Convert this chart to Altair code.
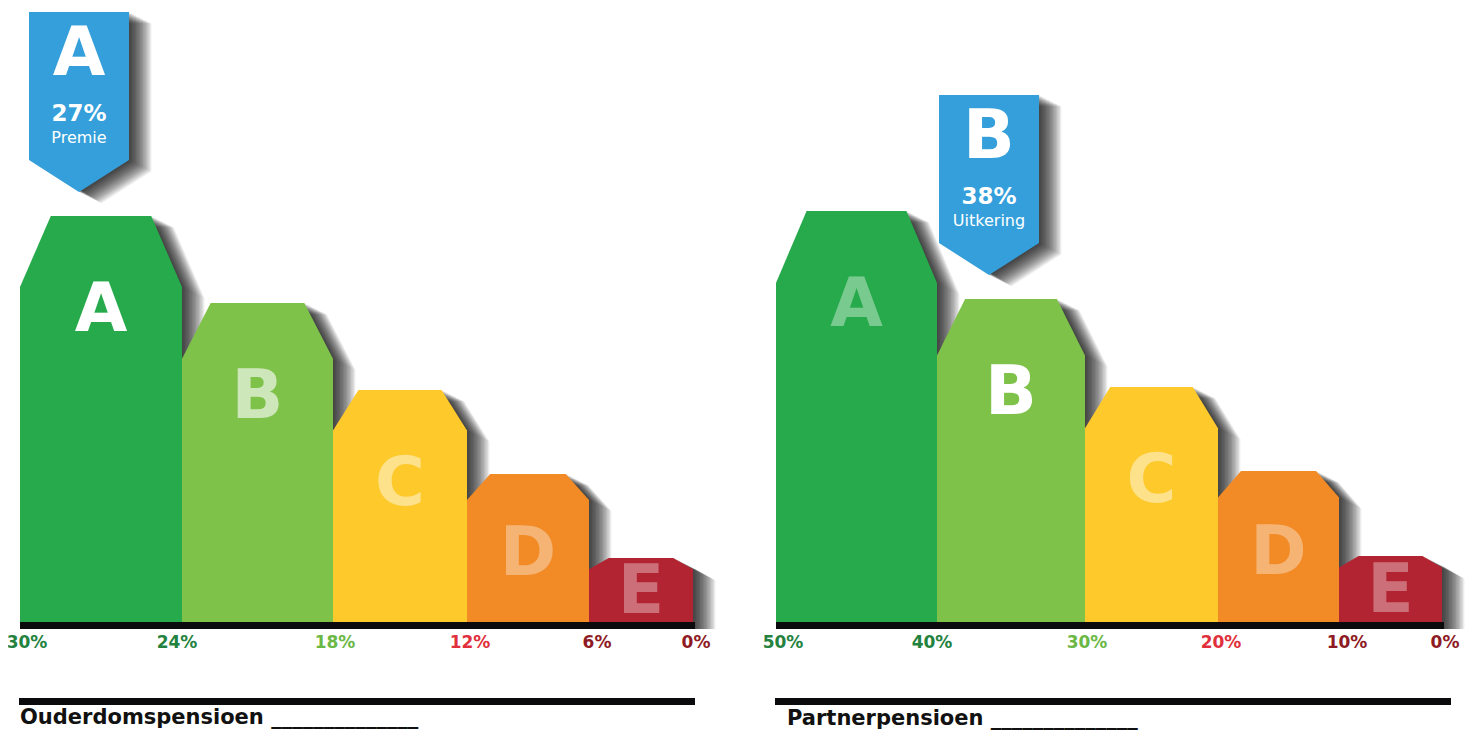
import altair as alt
import pandas as pd

# ---------------- data ----------------
grades = ["A", "B", "C", "D", "E"]
grade_colors = ["#27AA4B", "#7EC24A", "#FEC92B", "#F28A25", "#B32432"]

left_widths = [162, 151, 134, 122, 104]
left_heights = [406, 319, 232, 148, 64]
left_ticks = ["30%", "24%", "18%", "12%", "6%", "0%"]

right_widths = [161, 148, 133, 121, 103]
right_heights = [411, 323, 235, 151, 66]
right_ticks = ["50%", "40%", "30%", "20%", "10%", "0%"]

tick_colors = ["#23823E", "#23823E", "#6BB845", "#E1303B", "#8E1B24", "#8E1B24"]

panel_titles = ["Ouderdomspensioen", "Partnerpensioen"]
highlight = ["A", "B"]
highlight_values = ["27%", "38%"]
highlight_captions = ["Premie", "Uitkering"]

# ---------------- layout / style constants ----------------
W, H = 1463, 722
X_DOMAIN = [-12, 1451]
Y_DOMAIN = [-108, 614]
PANEL_OFFSETS = [0, 756]
CHAMFER_X = 0.19
CHAMFER_Y = 0.175
SHADOW_STEPS = 16          # directional soft shadow: shifted translucent copies
SHADOW_STEP_X, SHADOW_STEP_Y = 1.4, 0.7
SHADOW_ALPHA = 0.075
LETTER_ALPHA = [0.38, 0.62, 0.45, 0.36, 0.34]   # faded letters (non-highlighted)
AXIS_THICK = 7
RULE_LEN = 676
TICK_NUDGE = [7, -5, 2, 3, 8, 3]
TITLE_POS = [(0, -102), (11, -103)]
CALLOUT_W, CALLOUT_BODY, CALLOUT_TIP = 100, 148, 32
CALLOUT_GAP, CALLOUT_SHIFT = 24, -22
CALLOUT_COLOR = "#349FDB"
FONT = "DejaVu Sans"

panels = [(left_widths, left_heights, left_ticks), (right_widths, right_heights, right_ticks)]

bar_rows, letter_rows, tick_rows = [], [], []
axis_rows, rule_rows, title_rows = [], [], []
call_rows, call_bold_rows, call_norm_rows = [], [], []

for p, (widths, heights, ticks) in enumerate(panels):
    off = PANEL_OFFSETS[p]
    x0 = off
    bounds = [x0]
    for gi, (g, w, h, c) in enumerate(zip(grades, widths, heights, grade_colors)):
        inset = CHAMFER_X * w
        depth = CHAMFER_Y * h
        pts = [(x0, h - depth), (x0 + inset, h), (x0 + w - inset, h), (x0 + w, h - depth)]
        for px, py in pts:
            bar_rows.append(dict(key=f"{p}{g}", color=c, x=px, y=py, base=0))
        letter_rows.append(dict(
            x=x0 + w / 2, y=max(h - 95, 0.45 * h), text=g,
            alpha=1.0 if g == highlight[p] else LETTER_ALPHA[gi]))
        if g == highlight[p]:
            cx = x0 + w / 2 + CALLOUT_SHIFT
            tip = h + CALLOUT_GAP
            top = tip + CALLOUT_TIP + CALLOUT_BODY
            for px, py in [(cx - CALLOUT_W / 2, tip + CALLOUT_TIP), (cx, tip),
                           (cx + CALLOUT_W / 2, tip + CALLOUT_TIP)]:
                call_rows.append(dict(key=str(p), x=px, top=top, bottom=py))
            call_bold_rows += [
                dict(x=cx, y=tip + 137, text=g, size=68),
                dict(x=cx, y=tip + 78, text=highlight_values[p], size=23),
            ]
            call_norm_rows.append(dict(x=cx, y=tip + 54, text=highlight_captions[p], size=16))
        x0 += w
        bounds.append(x0)
    for i, (b, t) in enumerate(zip(bounds, ticks)):
        tick_rows.append(dict(x=b + TICK_NUDGE[i], y=-21, text=t, color=tick_colors[i]))
    axis_rows.append(dict(x=off, x2=bounds[-1] + 2, y=0, y2=-AXIS_THICK))
    rule_rows.append(dict(x=off - 1, x2=off - 1 + RULE_LEN, y=-76, y2=-83))
    tx, ty = TITLE_POS[p]
    title_rows.append(dict(x=off + tx, y=ty,
                           text=panel_titles[p] + " ______________"))

bar_df = pd.DataFrame(bar_rows)
call_df = pd.DataFrame(call_rows)

# shadow copies, each shifted a little more to the right and downwards
sh_rows, call_sh_rows = [], []
for k in range(1, SHADOW_STEPS + 1):
    sx, sy = SHADOW_STEP_X * k, SHADOW_STEP_Y * k
    for r in bar_rows:
        sh_rows.append(dict(key=f"{r['key']}_{k}", x=r["x"] + sx, y=r["y"] - sy, base=-30))
    for r in call_rows:
        call_sh_rows.append(dict(key=f"{r['key']}_{k}", x=r["x"] + sx,
                                 top=r["top"] - sy, bottom=r["bottom"] - sy))

xs = alt.Scale(domain=X_DOMAIN, nice=False, zero=False)
ys = alt.Scale(domain=Y_DOMAIN, nice=False, zero=False)


def X(f="x"):
    return alt.X(f"{f}:Q", scale=xs, axis=None)


def Y(f="y"):
    return alt.Y(f"{f}:Q", scale=ys, axis=None, stack=None)


layers = []
layers.append(
    alt.Chart(pd.DataFrame(sh_rows)).mark_area(orient="vertical", fill="black",
                                               fillOpacity=SHADOW_ALPHA, strokeWidth=0)
    .encode(x=X(), y=Y(), y2=alt.Y2("base:Q"), detail="key:N")
)
layers.append(
    alt.Chart(pd.DataFrame(call_sh_rows)).mark_area(orient="vertical", fill="black",
                                                    fillOpacity=SHADOW_ALPHA, strokeWidth=0)
    .encode(x=X(), y=Y("top"), y2=alt.Y2("bottom:Q"), detail="key:N")
)

# white mask below the baseline
mask_df = pd.DataFrame([dict(x=X_DOMAIN[0], x2=X_DOMAIN[1], y=-AXIS_THICK, y2=Y_DOMAIN[0] - 20)])
layers.append(
    alt.Chart(mask_df).mark_rect(color="white")
    .encode(x=X(), x2="x2:Q", y=Y(), y2="y2:Q")
)

# bars
layers.append(
    alt.Chart(bar_df).mark_area(orient="vertical", strokeWidth=0)
    .encode(x=X(), y=Y(), y2=alt.Y2("base:Q"), detail="key:N",
            color=alt.Color("color:N", scale=None))
)

# baseline axis bars
layers.append(
    alt.Chart(pd.DataFrame(axis_rows)).mark_rect(color="#0B0B0D")
    .encode(x=X(), x2="x2:Q", y=Y(), y2="y2:Q")
)

# letters in bars
layers.append(
    alt.Chart(pd.DataFrame(letter_rows)).mark_text(
        font=FONT, fontWeight="bold", fontSize=68, color="white",
        align="center", baseline="middle")
    .encode(x=X(), y=Y(), text="text:N", opacity=alt.Opacity("alpha:Q", scale=None))
)

# callouts
layers.append(
    alt.Chart(call_df).mark_area(orient="vertical", color=CALLOUT_COLOR)
    .encode(x=X(), y=Y("top"), y2=alt.Y2("bottom:Q"), detail="key:N")
)
layers.append(
    alt.Chart(pd.DataFrame(call_bold_rows)).mark_text(
        font=FONT, fontWeight="bold", color="white", align="center", baseline="middle")
    .encode(x=X(), y=Y(), text="text:N", size=alt.Size("size:Q", scale=None))
)
layers.append(
    alt.Chart(pd.DataFrame(call_norm_rows)).mark_text(
        font=FONT, fontWeight="normal", color="white", align="center", baseline="middle")
    .encode(x=X(), y=Y(), text="text:N", size=alt.Size("size:Q", scale=None))
)

# tick labels
layers.append(
    alt.Chart(pd.DataFrame(tick_rows)).mark_text(
        font=FONT, fontWeight="bold", fontSize=17, align="center", baseline="middle")
    .encode(x=X(), y=Y(), text="text:N", color=alt.Color("color:N", scale=None))
)

# bottom rules and titles
layers.append(
    alt.Chart(pd.DataFrame(rule_rows)).mark_rect(color="#0B0B0D")
    .encode(x=X(), x2="x2:Q", y=Y(), y2="y2:Q")
)
layers.append(
    alt.Chart(pd.DataFrame(title_rows)).mark_text(
        font=FONT, fontWeight="bold", fontSize=21, color="#111111",
        align="left", baseline="alphabetic")
    .encode(x=X(), y=Y(), text="text:N")
)

chart = (
    alt.layer(*layers)
    .properties(width=W, height=H, autosize=alt.AutoSizeParams(type="none"),
                padding=0, background="white")
    .configure_view(stroke=None)
)

chart.save("out.html", embed_options={"renderer": "svg", "actions": False})
